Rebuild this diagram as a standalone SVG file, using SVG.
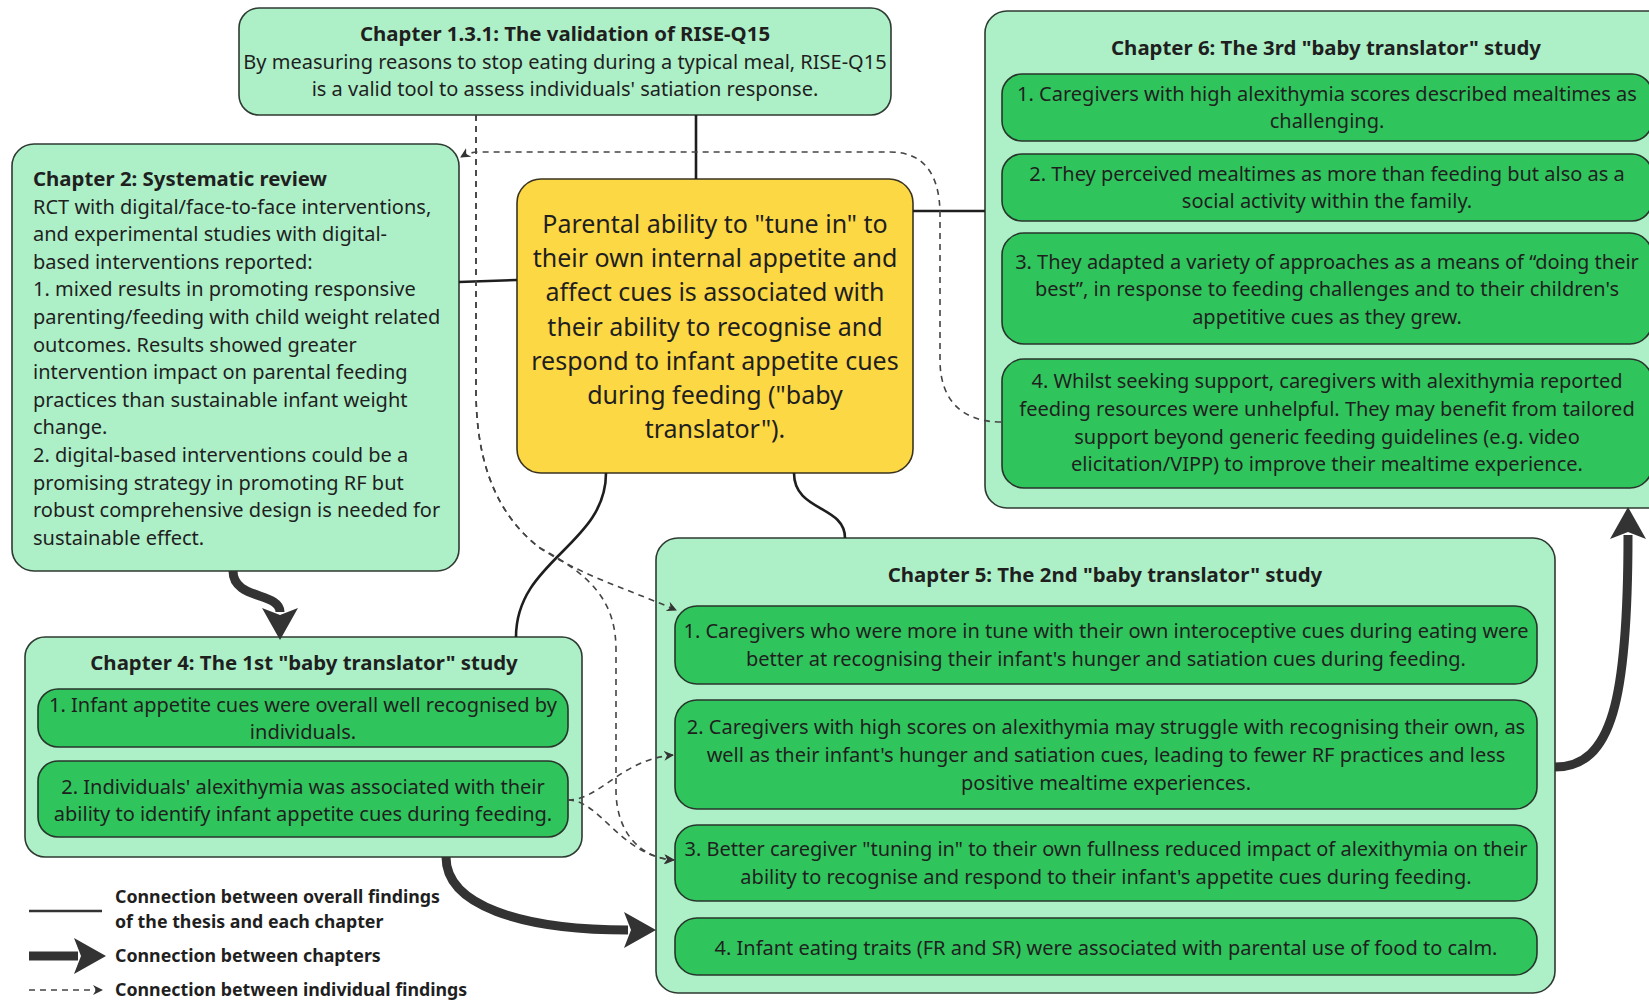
<svg xmlns="http://www.w3.org/2000/svg" width="1649" height="1000" viewBox="0 0 1649 1000">
  <style>
    .outer { fill: #adf0c7; stroke: #2e3a32; stroke-width: 1.6; }
    .item { fill: #2fc55c; stroke: #27352b; stroke-width: 1.6; }
    .core { fill: #fdd845; stroke: #3a3320; stroke-width: 1.6; }
    text { font-family: "Noto Sans", "Open Sans", sans-serif; fill: #1f1f1f; }
    .body { font-size: 20px; }
    .mid { text-anchor: middle; }
    .title { font-size: 20.4px; font-weight: bold; }
    .core-text { font-size: 25px; text-anchor: middle; }
    .legend { font-size: 17.8px; font-weight: bold; }
    .solid { fill: none; stroke: #1e1e1e; stroke-width: 2.6; }
    .thick { fill: none; stroke: #333333; stroke-width: 9; }
    .dash { fill: none; stroke: #444444; stroke-width: 1.6; stroke-dasharray: 6 5; }
  </style>
  <defs>
    <marker id="bigHead" markerUnits="userSpaceOnUse" markerWidth="34" markerHeight="38" refX="4" refY="19" orient="auto">
      <path d="M0,1 L32,19 L0,37 L7,19 z" fill="#333333"/>
    </marker>
    <marker id="smallHead" markerUnits="userSpaceOnUse" markerWidth="12" markerHeight="12" refX="9" refY="5" orient="auto">
      <path d="M0,0 L10,5 L0,10 L3,5 z" fill="#333333"/>
    </marker>
  </defs>

  <rect width="1649" height="1000" fill="#ffffff"/>

  <!-- Chapter 1.3.1 -->
  <g id="ch131">
    <rect class="outer" x="239" y="8" width="652" height="107" rx="20"/>
    <text class="title mid" x="565" y="41">Chapter 1.3.1: The validation of RISE-Q15</text>
    <text class="body mid" x="565" y="69">By measuring reasons to stop eating during a typical meal, RISE-Q15</text>
    <text class="body mid" x="565" y="96">is a valid tool to assess individuals' satiation response.</text>
  </g>

  <!-- Chapter 2 -->
  <g id="ch2">
    <rect class="outer" x="12" y="144" width="447" height="427" rx="22"/>
    <text class="title" x="33" y="186">Chapter 2: Systematic review</text>
    <g class="body">
      <text x="33" y="213.6">RCT with digital/face-to-face interventions,</text>
      <text x="33" y="241.2">and experimental studies with digital-</text>
      <text x="33" y="268.8">based interventions reported:</text>
      <text x="33" y="296.4">1. mixed results in promoting responsive</text>
      <text x="33" y="324">parenting/feeding with child weight related</text>
      <text x="33" y="351.6">outcomes. Results showed greater</text>
      <text x="33" y="379.2">intervention impact on parental feeding</text>
      <text x="33" y="406.8">practices than sustainable infant weight</text>
      <text x="33" y="434.4">change.</text>
      <text x="33" y="462">2. digital-based interventions could be a</text>
      <text x="33" y="489.6">promising strategy in promoting RF but</text>
      <text x="33" y="517.2">robust comprehensive design is needed for</text>
      <text x="33" y="544.8">sustainable effect.</text>
    </g>
  </g>

  <!-- overall finding -->
  <g id="overall">
    <rect class="core" x="517" y="179" width="396" height="294" rx="24"/>
    <text class="core-text" x="715" y="233">Parental ability to "tune in" to</text>
    <text class="core-text" x="715" y="267.2">their own internal appetite and</text>
    <text class="core-text" x="715" y="301.4">affect cues is associated with</text>
    <text class="core-text" x="715" y="335.6">their ability to recognise and</text>
    <text class="core-text" x="715" y="369.8">respond to infant appetite cues</text>
    <text class="core-text" x="715" y="404">during feeding ("baby</text>
    <text class="core-text" x="715" y="438.2">translator").</text>
  </g>

  <!-- Chapter 6 -->
  <g id="ch6">
    <rect class="outer" x="985" y="11" width="690" height="497" rx="22"/>
    <text class="title mid" x="1326" y="55">Chapter 6: The 3rd "baby translator" study</text>
    <g id="ch6-f1">
      <rect class="item" x="1002" y="74" width="650" height="67" rx="20"/>
      <text class="body mid" x="1327" y="100.6">1. Caregivers with high alexithymia scores described mealtimes as</text>
      <text class="body mid" x="1327" y="127.9">challenging.</text>
    </g>
    <g id="ch6-f2">
      <rect class="item" x="1002" y="154" width="650" height="67" rx="20"/>
      <text class="body mid" x="1327" y="180.5">2. They perceived mealtimes as more than feeding but also as a</text>
      <text class="body mid" x="1327" y="207.9">social activity within the family.</text>
    </g>
    <g id="ch6-f3">
      <rect class="item" x="1002" y="233" width="650" height="111" rx="22"/>
      <text class="body mid" x="1327" y="268.9">3. They adapted a variety of approaches as a means of “doing their</text>
      <text class="body mid" x="1327" y="296.2">best”, in response to feeding challenges and to their children's</text>
      <text class="body mid" x="1327" y="323.6">appetitive cues as they grew.</text>
    </g>
    <g id="ch6-f4">
      <rect class="item" x="1002" y="359" width="650" height="129" rx="22"/>
      <text class="body mid" x="1327" y="387.7">4. Whilst seeking support, caregivers with alexithymia reported</text>
      <text class="body mid" x="1327" y="416.1">feeding resources were unhelpful. They may benefit from tailored</text>
      <text class="body mid" x="1327" y="443.5">support beyond generic feeding guidelines (e.g. video</text>
      <text class="body mid" x="1327" y="470.8">elicitation/VIPP) to improve their mealtime experience.</text>
    </g>
  </g>

  <!-- Chapter 4 -->
  <g id="ch4">
    <rect class="outer" x="25" y="637" width="557" height="220" rx="20"/>
    <text class="title mid" x="304" y="670">Chapter 4: The 1st "baby translator" study</text>
    <g id="ch4-f1">
      <rect class="item" x="38" y="689" width="530" height="58" rx="20"/>
      <text class="body mid" x="303" y="711.6">1. Infant appetite cues were overall well recognised by</text>
      <text class="body mid" x="303" y="739">individuals.</text>
    </g>
    <g id="ch4-f2">
      <rect class="item" x="38" y="761" width="530" height="76" rx="20"/>
      <text class="body mid" x="303" y="793.7">2. Individuals' alexithymia was associated with their</text>
      <text class="body mid" x="303" y="821">ability to identify infant appetite cues during feeding.</text>
    </g>
  </g>

  <!-- Chapter 5 -->
  <g id="ch5">
    <rect class="outer" x="656" y="538" width="899" height="455" rx="22"/>
    <text class="title mid" x="1105" y="582">Chapter 5: The 2nd "baby translator" study</text>
    <g id="ch5-f1">
      <rect class="item" x="675" y="606" width="862" height="78" rx="22"/>
      <text class="body mid" x="1106" y="638">1. Caregivers who were more in tune with their own interoceptive cues during eating were</text>
      <text class="body mid" x="1106" y="666.4">better at recognising their infant's hunger and satiation cues during feeding.</text>
    </g>
    <g id="ch5-f2">
      <rect class="item" x="675" y="700" width="862" height="109" rx="22"/>
      <text class="body mid" x="1106" y="733.7">2. Caregivers with high scores on alexithymia may struggle with recognising their own, as</text>
      <text class="body mid" x="1106" y="762.1">well as their infant's hunger and satiation cues, leading to fewer RF practices and less</text>
      <text class="body mid" x="1106" y="789.5">positive mealtime experiences.</text>
    </g>
    <g id="ch5-f3">
      <rect class="item" x="675" y="825" width="862" height="76" rx="22"/>
      <text class="body mid" x="1106" y="855.7">3. Better caregiver "tuning in" to their own fullness reduced impact of alexithymia on their</text>
      <text class="body mid" x="1106" y="884.1">ability to recognise and respond to their infant's appetite cues during feeding.</text>
    </g>
    <g id="ch5-f4">
      <rect class="item" x="675" y="918" width="862" height="57" rx="22"/>
      <text class="body mid" x="1106" y="954.6">4. Infant eating traits (FR and SR) were associated with parental use of food to calm.</text>
    </g>
  </g>

  <!-- connectors, drawn above the boxes -->
  <g id="connectors">
    <!-- overall findings to each chapter -->
    <path class="solid" d="M696 115 L696 179"/>
    <path class="solid" d="M459 282 L517 280"/>
    <path class="solid" d="M913 211 L985 211"/>
    <path class="solid" d="M606 473 C606 545 516 560 516 637"/>
    <path class="solid" d="M794 473 C794 512 845 505 845 538"/>
    <!-- chapter to chapter -->
    <path class="thick" marker-end="url(#bigHead)" d="M233 571 C233 600 280 592 280 612"/>
    <path class="thick" marker-end="url(#bigHead)" d="M446 857 C446 905 520 930 628 930"/>
    <path class="thick" marker-end="url(#bigHead)" d="M1555 767 C1612 767 1628 700 1628 535"/>
    <!-- individual findings -->
    <path class="dash" marker-end="url(#smallHead)" d="M476 115 L476 390 C476 450 490 510 540 548 C580 575 630 590 676 610"/>
    <path class="dash" marker-end="url(#smallHead)" d="M476 115 L476 390 C476 450 490 510 540 548 C590 575 616 600 616 650 L616 790 C616 832 640 858 674 860"/>
    <path class="dash" marker-end="url(#smallHead)" d="M568 800 C600 800 620 760 673 755"/>
    <path class="dash" marker-end="url(#smallHead)" d="M568 800 C600 800 620 855 673 860"/>
    <path class="dash" marker-end="url(#smallHead)" d="M1001 422 C962 422 940 400 940 360 L940 215 C940 172 922 152 890 152 L480 152 C472 152 466 154 461 157"/>
  </g>

  <!-- legend -->
  <g id="legend">
    <line x1="29" y1="911" x2="102" y2="911" stroke="#333333" stroke-width="2.6"/>
    <text class="legend" x="115" y="903">Connection between overall findings</text>
    <text class="legend" x="115" y="928">of the thesis and each chapter</text>
    <path class="thick" marker-end="url(#bigHead)" d="M29 956 L78 956"/>
    <text class="legend" x="115" y="962">Connection between chapters</text>
    <path class="dash" marker-end="url(#smallHead)" d="M29 990 L102 990"/>
    <text class="legend" x="115" y="996">Connection between individual findings</text>
  </g>
</svg>
